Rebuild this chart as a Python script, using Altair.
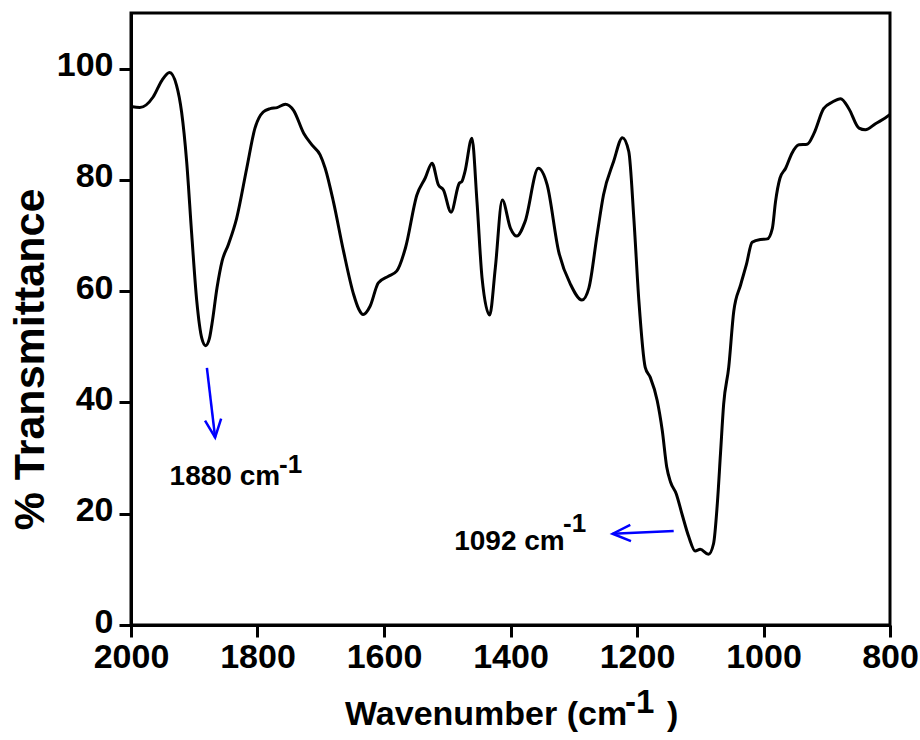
import altair as alt
import pandas as pd

# ---- spectrum ----
wavenumber = [2000, 1986, 1965, 1951, 1939, 1928, 1920, 1912, 1904, 1896, 1888, 1882,
              1876, 1872, 1864, 1856, 1846, 1833, 1817, 1804, 1791, 1780, 1769, 1756,
              1743, 1727, 1714, 1701, 1693, 1680, 1664, 1648, 1640, 1633, 1622, 1609,
              1593, 1580, 1566, 1548, 1535, 1524, 1514, 1506, 1494, 1481, 1477, 1472,
              1461, 1453, 1445, 1433, 1424, 1413, 1400, 1390, 1377, 1356, 1342, 1324,
              1305, 1287, 1276, 1263, 1253, 1237, 1223, 1213, 1205, 1197, 1187, 1179,
              1168, 1160, 1153, 1147, 1138, 1129, 1118, 1108, 1100, 1087, 1079, 1073,
              1068, 1063, 1055, 1047, 1036, 1027, 1018, 1005, 994, 986, 981, 974,
              965, 955, 944, 931, 920, 905, 891, 878, 865, 849, 839, 823, 802, 800]
transmittance = [93.2, 93.0, 94.9, 97.9, 99.3, 97.0, 92.2, 83.3, 70.2, 58.2, 51.5, 50.2,
                 51.5, 54.1, 60.6, 65.4, 68.4, 73.1, 82.1, 89.3, 92.2, 92.8, 93.0, 93.6,
                 92.5, 88.4, 86.3, 84.5, 82.1, 76.1, 67.2, 59.4, 56.8, 55.8, 57.3, 61.5,
                 62.7, 63.6, 67.8, 77.3, 80.3, 83.0, 79.1, 78.2, 74.2, 79.4, 79.7, 81.5,
                 87.5, 76.1, 62.4, 55.7, 64.2, 76.4, 71.3, 69.9, 72.5, 82.1, 79.1, 67.2,
                 61.2, 58.4, 60.6, 70.2, 77.3, 83.3, 87.6, 85.1, 73.1, 58.2, 46.3, 44.5,
                 40.3, 34.9, 28.4, 25.7, 23.6, 20.0, 15.8, 13.3, 13.6, 12.7, 14.6, 21.8,
                 30.8, 39.7, 46.3, 56.4, 61.2, 64.8, 68.8, 69.3, 69.4, 71.3, 76.1, 80.3,
                 82.1, 84.8, 86.3, 86.4, 88.4, 92.8, 94.0, 94.6, 92.8, 89.3, 89.0, 90.1,
                 91.6, 91.8]

# ---- annotations ----
arrow_x_start = [1880, 1142]
arrow_y_start = [46.2, 16.9]
arrow_x_end = [1867, 1238.5]
arrow_y_end = [33.7, 16.4]
arrow_angle = [83.5, 177.6]

label_text = ["1880 cm", "1092 cm"]
label_x = [1939, 1489]
label_y = [25.1, 13.4]
sup_text = ["-1", "-1"]
sup_x = [1766, 1317]
sup_y = [27.4, 16.7]

x_ticks = [2000, 1800, 1600, 1400, 1200, 1000, 800]
y_ticks = [0, 20, 40, 60, 80, 100]

FONT = "Liberation Sans"
W, H = 759, 612

x_scale = alt.Scale(domain=[800, 2000], reverse=True, nice=False, zero=False)
y_scale = alt.Scale(domain=[0, 110], nice=False, zero=False)

x_axis = alt.Axis(values=x_ticks, title=None, format="d", labelFlush=False,
                  labelOverlap=False, labelPadding=3)
y_axis = alt.Axis(values=y_ticks, title="% Transmittance", format="d",
                  labelOverlap=False, labelPadding=6, labelOffset=-3,
                  titleX=-88, titleY=346, titleBaseline="alphabetic",
                  titleFontSize=43, titleAngle=270, titleAlign="center")

spec = pd.DataFrame({"w": wavenumber, "t": transmittance})
arrows = pd.DataFrame({"x0": arrow_x_start, "y0": arrow_y_start,
                       "x1": arrow_x_end, "y1": arrow_y_end, "ang": arrow_angle})
labels = pd.DataFrame({"lx": label_x, "ly": label_y, "lt": label_text,
                       "sx": sup_x, "sy": sup_y, "st": sup_text})
one = pd.DataFrame({"a": [0]})

line = alt.Chart(spec).mark_line(color="black", strokeWidth=3, interpolate="monotone").encode(
    x=alt.X("w:Q", scale=x_scale, axis=x_axis),
    y=alt.Y("t:Q", scale=y_scale, axis=y_axis),
)

shaft = alt.Chart(arrows).mark_rule(color="#0000ff", strokeWidth=2.5).encode(
    x=alt.X("x0:Q", scale=x_scale, axis=x_axis),
    y=alt.Y("y0:Q", scale=y_scale, axis=y_axis),
    x2="x1:Q", y2="y1:Q",
)

heads = alt.Chart(arrows).mark_point(
    shape="M -2 -0.9 L 0 0 L -2 0.9", filled=False, size=324, strokeWidth=2.5,
    color="#0000ff", opacity=1,
).encode(
    x=alt.X("x1:Q", scale=x_scale, axis=x_axis),
    y=alt.Y("y1:Q", scale=y_scale, axis=y_axis),
    angle=alt.Angle("ang:Q", scale=None),
)

ann = alt.Chart(labels).mark_text(align="left", baseline="alphabetic", fontSize=28,
                                  fontWeight="bold", font=FONT, color="black").encode(
    x=alt.X("lx:Q", scale=x_scale, axis=x_axis),
    y=alt.Y("ly:Q", scale=y_scale, axis=y_axis),
    text="lt:N",
)
ann_sup = alt.Chart(labels).mark_text(align="left", baseline="alphabetic", fontSize=26,
                                      fontWeight="bold", font=FONT, color="black").encode(
    x=alt.X("sx:Q", scale=x_scale, axis=x_axis),
    y=alt.Y("sy:Q", scale=y_scale, axis=y_axis),
    text="st:N",
)

def title_piece(txt, px, py, size):
    return alt.Chart(one).mark_text(align="left", baseline="alphabetic", fontSize=size,
                                    fontWeight="bold", font=FONT, color="black").encode(
        x=alt.value(px), y=alt.value(py), text=alt.value(txt))

xt_main = title_piece("Wavenumber (cm", 214, 712, 34)
xt_sup = title_piece("-1", 494, 700, 33)
xt_close = title_piece(")", 536, 712, 34)

chart = alt.layer(line, shaft, heads, ann, ann_sup, xt_main, xt_sup, xt_close).properties(
    width=W, height=H,
    autosize=alt.AutoSizeParams(type="none"),
    padding={"left": 131, "top": 13, "right": 30, "bottom": 115},
).configure_view(stroke="black", strokeWidth=3).configure_axis(
    domainColor="black", domainWidth=3, tickColor="black", tickWidth=3, tickSize=12,
    labelFont=FONT, labelFontSize=34, labelFontWeight="bold", labelColor="black",
    titleFont=FONT, titleFontWeight="bold", titleColor="black", grid=False,
)

chart.save("out.html", embed_options={"renderer": "svg", "actions": False})
